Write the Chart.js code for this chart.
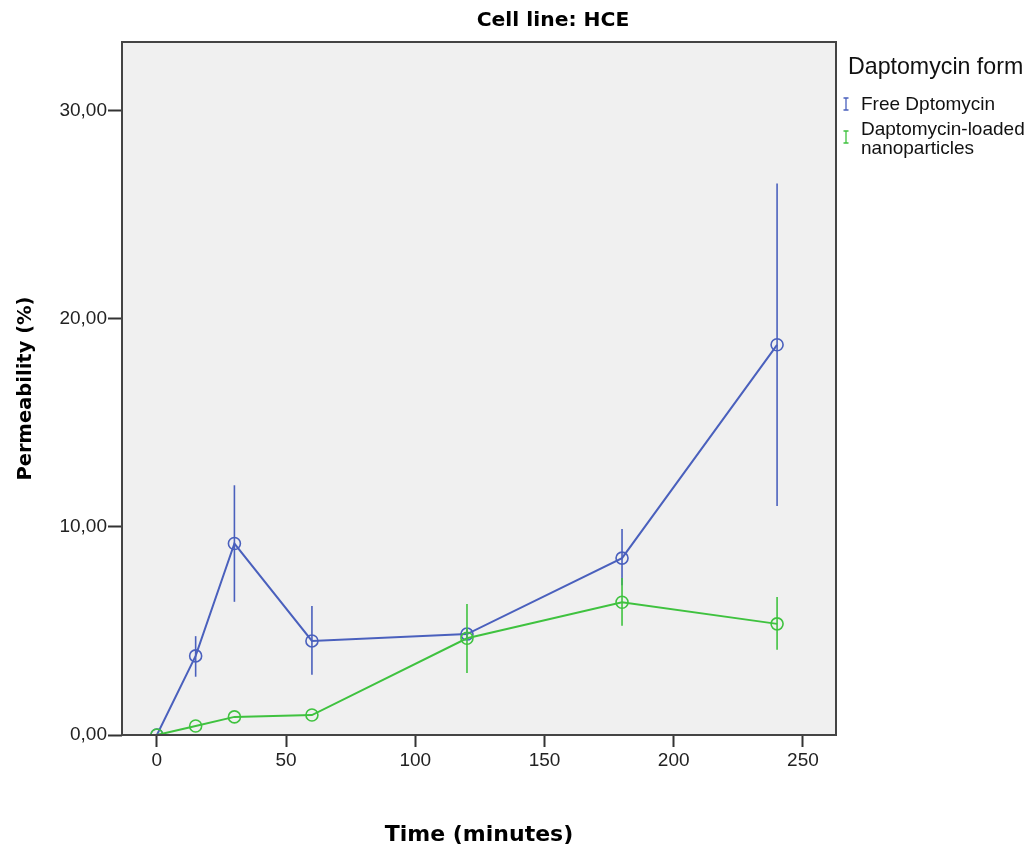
<!DOCTYPE html>
<html>
<head>
<meta charset="utf-8">
<script src="https://cdn.jsdelivr.net/npm/chart.js@4.4.1/dist/chart.umd.min.js"></script>
<style>
  html, body { margin: 0; padding: 0; background: #fff; }
  #wrap { width: 1030px; height: 848px; }
</style>
</head>
<body>
<div id="wrap"><canvas id="grafico"></canvas></div>
<script>
// ── Datos ─────────────────────────────
const tiempos = [0, 15, 30, 60, 120, 180, 240]

const libreMedia = [0, 3.8, 9.2, 4.52, 4.85, 8.5, 18.75]
const libreBajo  = [0, 2.8, 6.4, 2.9, 4.6, 7.2, 11.0]
const libreAlto  = [0, 4.75, 12.0, 6.2, 5.1, 9.9, 26.5]

const nanoMedia = [0, 0.43, 0.87, 0.96, 4.65, 6.38, 5.34]
const nanoBajo  = [0, 0.43, 0.87, 0.96, 2.98, 5.25, 4.1]
const nanoAlto  = [0, 0.43, 0.87, 0.96, 6.3, 7.55, 6.63]

const ticksX = [0, 50, 100, 150, 200, 250]
const ticksY = [0, 10, 20, 30]

const AZUL  = '#4a60bd'
const VERDE = '#3fc23f'

const fuente  = "'Liberation Sans', Arial, sans-serif"
const fuenteB = "'DejaVu Sans', sans-serif"

// escribe un texto ajustando el tamaño a un ancho dado
function textoAjustado(ctx, texto, x, y, ancho, peso, familia) {
  ctx.font = `${peso} 20px ${familia}`
  const tam = 20 * ancho / ctx.measureText(texto).width
  ctx.font = `${peso} ${tam.toFixed(1)}px ${familia}`
  ctx.fillText(texto, x, y)
}

// ── Fondo, marco, título y leyenda ────
const fondoArea = {
  id: 'fondoArea',
  beforeDraw(chart) {
    const { ctx, chartArea: a } = chart
    ctx.save()
    ctx.fillStyle = '#f0f0f0'
    ctx.fillRect(a.left, a.top, a.right - a.left, a.bottom - a.top)
    ctx.restore()
  },
  afterDraw(chart) {
    const { ctx, chartArea: a } = chart
    ctx.save()
    ctx.strokeStyle = '#444'
    ctx.lineWidth = 2
    ctx.strokeRect(a.left, a.top, a.right - a.left, a.bottom - a.top)

    // título
    ctx.fillStyle = '#000'
    ctx.textAlign = 'center'
    ctx.textBaseline = 'middle'
    textoAjustado(ctx, 'Cell line: HCE', 553, 21, 153, 'bold', fuenteB)

    // leyenda
    ctx.textAlign = 'left'
    ctx.fillStyle = '#111'
    textoAjustado(ctx, 'Daptomycin form', 848, 68, 175, 'normal', fuente)
    textoAjustado(ctx, 'Free Dptomycin', 861, 105, 134, 'normal', fuente)
    textoAjustado(ctx, 'Daptomycin-loaded', 861, 130, 164, 'normal', fuente)
    ctx.fillText('nanoparticles', 861, 149)
    const marcaI = (x, y, color) => {
      ctx.strokeStyle = color
      ctx.lineWidth = 1.3
      ctx.beginPath()
      ctx.moveTo(x, y - 6); ctx.lineTo(x, y + 6)
      ctx.moveTo(x - 2.5, y - 6); ctx.lineTo(x + 2.5, y - 6)
      ctx.moveTo(x - 2.5, y + 6); ctx.lineTo(x + 2.5, y + 6)
      ctx.stroke()
    }
    marcaI(846, 104, AZUL)
    marcaI(846, 137, VERDE)
    ctx.restore()
  }
}

// ── Barras de error ───────────────────
const barrasError = {
  id: 'barrasError',
  afterDatasetsDraw(chart) {
    const { ctx, scales: { x, y } } = chart
    const dibujar = (bajo, alto, color) => {
      ctx.save()
      ctx.strokeStyle = color
      ctx.lineWidth = 1.6
      tiempos.forEach((t, i) => {
        if (alto[i] === bajo[i]) return
        const px = x.getPixelForValue(t)
        ctx.beginPath()
        ctx.moveTo(px, y.getPixelForValue(bajo[i]))
        ctx.lineTo(px, y.getPixelForValue(alto[i]))
        ctx.stroke()
      })
      ctx.restore()
    }
    dibujar(libreBajo, libreAlto, AZUL)
    dibujar(nanoBajo, nanoAlto, VERDE)
  }
}

const puntos = (medias) => tiempos.map((t, i) => ({ x: t, y: medias[i] }))

const serie = (label, medias, color, orden) => ({
  label,
  data: puntos(medias),
  showLine: true,
  borderColor: color,
  borderWidth: 2,
  pointRadius: 6,
  pointBorderWidth: 1.6,
  pointBorderColor: color,
  pointBackgroundColor: 'rgba(0,0,0,0)',
  pointHoverRadius: 6,
  order: orden
})

new Chart(document.getElementById('grafico'), {
  type: 'scatter',
  data: {
    datasets: [
      serie('Daptomycin-loaded nanoparticles', nanoMedia, VERDE, 0),
      serie('Free Dptomycin', libreMedia, AZUL, 1)
    ]
  },
  options: {
    responsive: true,
    maintainAspectRatio: false,
    animation: false,
    layout: { padding: { top: 42, right: 194, left: 0, bottom: 0 } },
    plugins: { legend: { display: false }, tooltip: { enabled: false } },
    scales: {
      x: {
        type: 'linear',
        min: -13.5,
        max: 262.8,
        afterBuildTicks: s => { s.ticks = ticksX.map(v => ({ value: v })) },
        afterFit: s => { s.height = 113 },
        grid: { display: true, drawOnChartArea: false, drawTicks: true, tickLength: 12, tickWidth: 2, color: '#333' },
        border: { display: false },
        ticks: { color: '#222', font: { family: fuente, size: 19 }, padding: 2, maxRotation: 0 },
        title: { display: true, text: 'Time (minutes)', color: '#000', font: { family: fuenteB, size: 22, weight: 'bold' }, padding: { top: 0, bottom: 0 } }
      },
      y: {
        min: 0,
        max: 33.3,
        afterBuildTicks: s => { s.ticks = ticksY.map(v => ({ value: v })) },
        afterFit: s => { s.width = 122 },
        grid: { display: true, drawOnChartArea: false, drawTicks: true, tickLength: 14, tickWidth: 2, color: '#333' },
        border: { display: false },
        ticks: {
          color: '#222', font: { family: fuente, size: 19 }, padding: 1,
          callback: v => v.toFixed(2).replace('.', ',')
        },
        title: { display: true, text: 'Permeability (%)', color: '#000', font: { family: fuenteB, size: 19.5, weight: 'bold' }, padding: { top: 14 } }
      }
    }
  },
  plugins: [fondoArea, barrasError]
})
</script>
</body>
</html>
